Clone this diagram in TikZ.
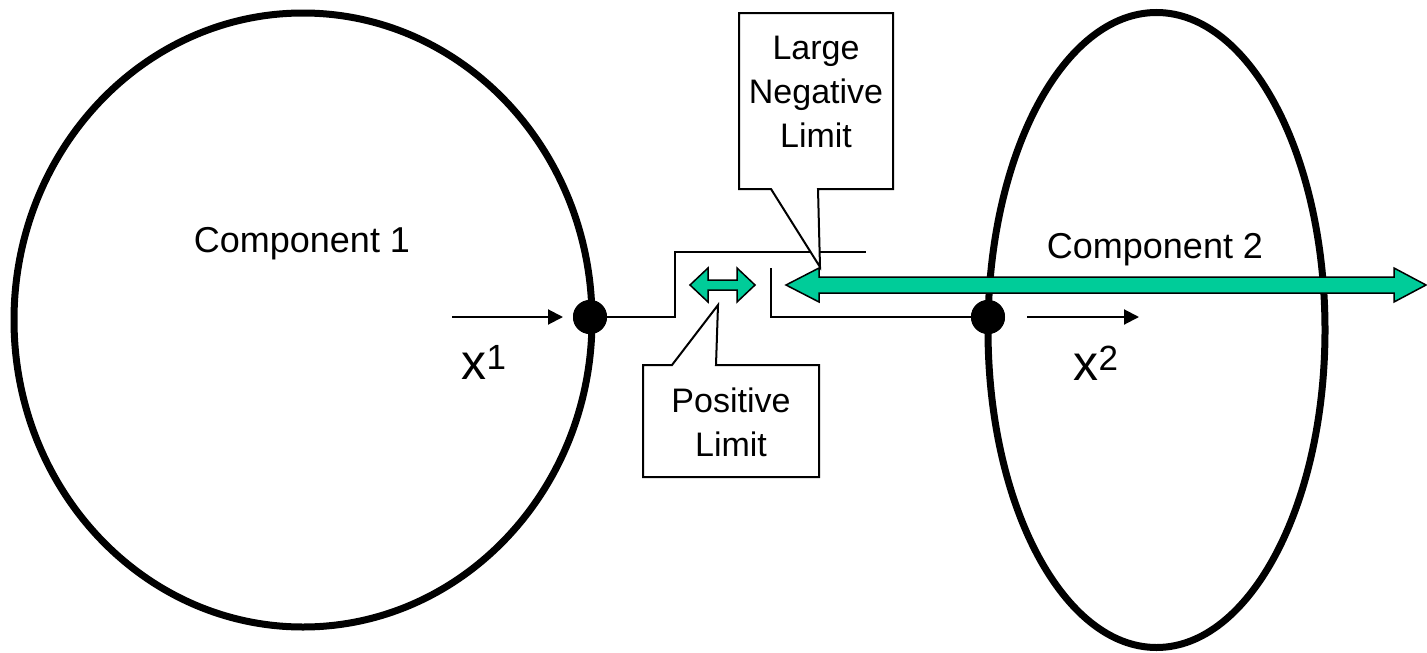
\documentclass[tikz,border=0pt]{standalone}
\usepackage{fontspec}
\setmainfont{Liberation Sans}
\usetikzlibrary{arrows.meta,shapes.geometric}
\definecolor{tealfill}{RGB}{0,204,153}
\begin{document}
\begin{tikzpicture}[x=1pt,y=-1pt,
  comp/.style={draw=black,line width=7pt,ellipse,inner sep=0pt},
  dot/.style={circle,fill=black,inner sep=0pt,minimum size=34pt},
  wire/.style={line width=2pt},
  calloutbox/.style={draw=black,fill=white,line width=2pt,line join=miter},
  blockarrow/.style={draw=black,fill=tealfill,line width=1.5pt,line join=miter},
  lbl/.style={font=\fontsize{34}{44}\selectfont,align=center,inner sep=0pt},
  clbl/.style={font=\fontsize{36}{44}\selectfont,inner sep=0pt,anchor=base},
  xlbl/.style={font=\fontsize{50}{60}\selectfont,inner sep=0pt,anchor=base},
  flow/.style={line width=2pt,-{Triangle[length=15pt,width=15pt]}}]
\useasboundingbox (0,0) rectangle (1427,653);

% components
\node[comp,minimum width=578pt,minimum height=614pt] (c1) at (303,320) {};
\node[comp,minimum width=337pt,minimum height=635pt] (c2) at (1156.5,330) {};
\node[clbl] (t1) at (302,252) {Component 1};
\node[clbl] (t2) at (1155,258) {Component 2};

% flow arrows
\coordinate (a1s) at (452,317);
\coordinate (a1e) at (563,317);
\coordinate (a2s) at (1027,317);
\coordinate (a2e) at (1139,317);
\draw[flow] (a1s) -- (a1e);
\draw[flow] (a2s) -- (a2e);
\node[xlbl] (x1) at (484,379) {x\textsuperscript{1}};
\node[xlbl] (x2) at (1096,380) {x\textsuperscript{2}};

% wires
\coordinate (w1) at (675,317);
\coordinate (w2) at (675,252);
\coordinate (w3) at (866,252);
\coordinate (w4) at (771,268);
\coordinate (w5) at (771,317);
\node[dot] (d1) at (590,317) {};
\node[dot] (d2) at (988,317) {};
\draw[wire] (d1.center) -- (w1) -- (w2) -- (w3);
\draw[wire] (w4) -- (w5) -- (d2.center);
\node[dot] at (590,317) {};
\node[dot] at (988,317) {};

% block arrows
\draw[blockarrow] (690,285) -- (708,268) -- (708,280) -- (737,280) -- (737,268) -- (755,285)
  -- (737,302) -- (737,290) -- (708,290) -- (708,302) -- cycle;
\draw[blockarrow] (786,285) -- (819,268) -- (819,277) -- (1394,277) -- (1394,268) -- (1426,285)
  -- (1394,302) -- (1394,293) -- (819,293) -- (819,302) -- cycle;

% callouts
\draw[calloutbox] (739,13) -- (893,13) -- (893,189) -- (818,189) -- (820,267) -- (771,189)
  -- (739,189) -- cycle;
\node[lbl] (lnl) at (816,92) {Large\\Negative\\Limit};
\draw[calloutbox] (643,365) -- (672,365) -- (718,305) -- (716,365) -- (819,365) -- (819,477)
  -- (643,477) -- cycle;
\node[lbl] (pl) at (731,422) {Positive\\Limit};
\end{tikzpicture}
\end{document}
